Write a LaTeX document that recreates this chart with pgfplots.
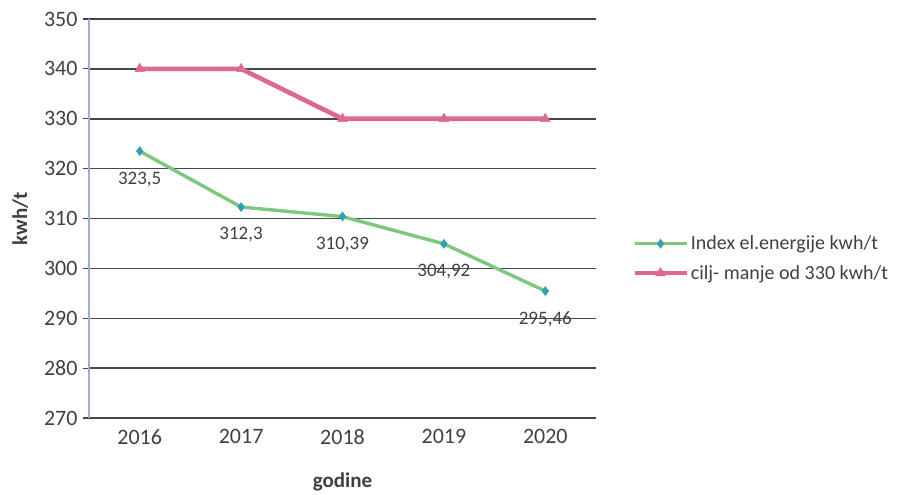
\documentclass[border=0pt]{standalone}
\usepackage{pgfplots}
\pgfplotsset{compat=1.18}
\usepackage{fontspec}
\setmainfont{Carlito}

\definecolor{idxgreen}{RGB}{125,200,125}
\definecolor{idxmark}{RGB}{50,160,180}
\definecolor{goalpink}{RGB}{222,104,145}
\definecolor{gridgray}{RGB}{70,70,70}
\definecolor{yaxisblue}{RGB}{160,175,205}

\begin{document}
\begin{tikzpicture}
    \begin{axis}[
        scale only axis,
        width=507pt,
        height=399pt,
        xmin=-0.5, xmax=4.5,
        ymin=270, ymax=350,
        ytick={270,280,...,350},
        xtick={0,1,2,3,4},
        xticklabels={2016,2017,2018,2019,2020},
        major x tick style={draw=none},
        extra x ticks={-0.5,0.5,1.5,2.5,3.5,4.5},
        extra x tick labels={},
        extra x tick style={tick style={draw=gridgray, line width=1.2pt}, major tick length=7pt, tick align=outside},
        ytick style={draw=gridgray, line width=1.2pt},
        major tick length=6pt,
        tick align=outside,
        ymajorgrids,
        y grid style={gridgray, line width=1.5pt},
        axis x line*=bottom,
        axis y line*=left,
        x axis line style={gridgray, line width=1.5pt, -},
        y axis line style={yaxisblue, line width=1.2pt, -},
        /pgf/number format/assume math mode=true,
        tick label style={font=\fontsize{22}{26}\selectfont, text=black!75},
        xticklabel style={yshift=-2pt},
        yticklabel style={xshift=-2pt},
        xlabel={\textbf{godine}},
        ylabel={\textbf{kwh/t}},
        label style={font=\fontsize{21}{25}\selectfont, text=black!75},
        xlabel style={yshift=-8pt},
        ylabel style={yshift=9pt},
        legend style={
            at={(1,0.40)}, anchor=west, xshift=36pt,
            draw=none, fill=none,
            font=\fontsize{20}{24}\selectfont,
            text=black!75,
            row sep=10pt,
            inner sep=0pt,
            cells={anchor=west},
            /tikz/every even column/.append style={column sep=2pt},
        },
        legend image code/.code={
            \draw[mark repeat=2, mark phase=2, #1]
                plot coordinates {(0pt,0pt) (26pt,0pt) (52pt,0pt)};
        },
    ]

    % Index el.energije
    \addplot[
        color=idxgreen, line width=3.4pt,
        mark=diamond*, mark size=4.5pt,
        mark options={fill=idxmark, draw=idxmark, line width=0.5pt},
        nodes near coords,
        point meta=explicit symbolic,
        every node near coord/.append style={
            font=\fontsize{19}{22}\selectfont, text=black!75,
            anchor=center, yshift=-28pt},
    ] coordinates {
        (0, 323.5)  [323,5]
        (1, 312.3)  [312,3]
        (2, 310.39) [310,39]
        (3, 304.92) [304,92]
        (4, 295.46) [295,46]
    };
    \addlegendentry{Index el.energije kwh/t}

    % cilj
    \addplot[
        color=goalpink, line width=4.6pt,
        mark=triangle*, mark size=5.5pt,
        mark options={fill=goalpink, draw=goalpink, line width=0.5pt},
    ] coordinates {
        (0, 340) (1, 340) (2, 330) (3, 330) (4, 330)
    };
    \addlegendentry{cilj- manje od 330 kwh/t}

    \end{axis}
    \path[use as bounding box]
        ([xshift=-89pt,yshift=-73pt]current axis.south west)
        rectangle ([xshift=307pt,yshift=19pt]current axis.north east);
\end{tikzpicture}
\end{document}
